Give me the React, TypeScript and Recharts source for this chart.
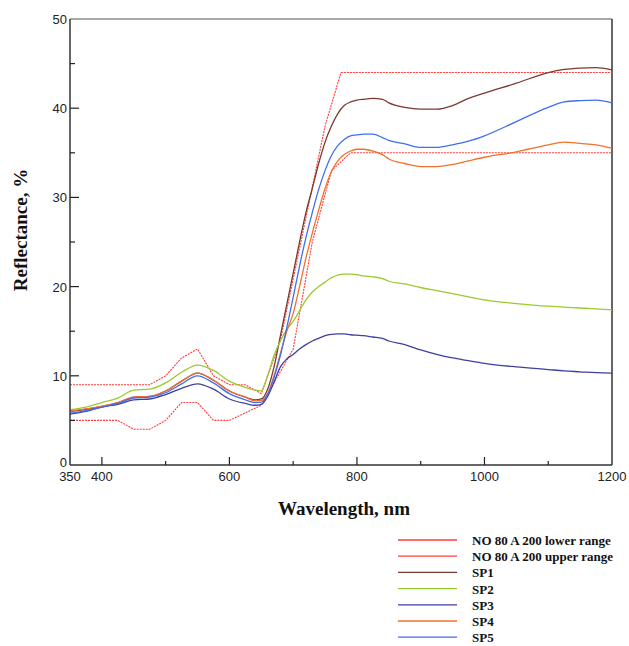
import { LineChart, Line, XAxis, YAxis, ReferenceLine } from 'recharts';

// wavelengths (nm) for the measured spectra
const specNm = [350, 375, 400, 425, 450, 475, 500, 525, 550, 575, 600, 625, 640, 650, 660, 670, 680, 690, 700, 710, 720, 730, 740, 750, 760, 770, 780, 790, 800, 810, 825, 840, 850, 875, 900, 925, 950, 975, 1000, 1050, 1100, 1125, 1150, 1175, 1200];

const sp1 = [6.0, 6.25, 6.55, 7.0, 7.6, 7.7, 8.3, 9.4, 10.3, 9.5, 8.3, 7.6, 7.3, 7.4, 8.5, 11.0, 14.5, 18.0, 21.5, 25.0, 28.3, 31.0, 33.8, 36.2, 38.0, 39.4, 40.3, 40.7, 40.9, 41.0, 41.1, 41.0, 40.6, 40.1, 39.9, 39.9, 40.3, 41.1, 41.7, 42.8, 44.0, 44.35, 44.5, 44.55, 44.3];
const sp2 = [6.2, 6.5, 7.0, 7.5, 8.4, 8.5, 9.2, 10.4, 11.2, 10.6, 9.4, 8.7, 8.4, 8.3, 10.0, 12.3, 13.9, 15.2, 16.1, 17.3, 18.5, 19.4, 20.0, 20.5, 21.0, 21.3, 21.4, 21.4, 21.35, 21.2, 21.1, 20.9, 20.6, 20.3, 19.9, 19.55, 19.2, 18.85, 18.5, 18.1, 17.8, 17.7, 17.6, 17.5, 17.4];
const sp3 = [5.7, 6.0, 6.5, 6.8, 7.3, 7.4, 7.9, 8.6, 9.1, 8.5, 7.4, 6.9, 6.7, 6.8, 7.7, 9.3, 11.0, 11.9, 12.4, 13.0, 13.5, 13.9, 14.2, 14.5, 14.65, 14.7, 14.7, 14.6, 14.55, 14.5, 14.35, 14.2, 13.9, 13.5, 12.9, 12.4, 12.0, 11.7, 11.4, 11.0, 10.7, 10.55, 10.45, 10.35, 10.3];
const sp4 = [6.05, 6.3, 6.6, 7.0, 7.6, 7.7, 8.3, 9.4, 10.3, 9.5, 8.3, 7.6, 7.2, 7.25, 8.0, 10.0, 12.5, 15.0, 17.0, 20.0, 23.2, 26.0, 28.6, 31.0, 32.9, 34.1, 34.8, 35.2, 35.4, 35.4, 35.2, 34.8, 34.3, 33.8, 33.45, 33.45, 33.7, 34.1, 34.5, 35.1, 35.9, 36.2, 36.05, 35.9, 35.5];
const sp5 = [5.8, 6.1, 6.5, 6.9, 7.5, 7.6, 8.1, 9.1, 10.0, 9.2, 8.0, 7.3, 7.0, 7.05, 7.9, 9.8, 12.3, 15.4, 18.8, 22.3, 25.5, 28.3, 30.9, 33.0, 34.7, 35.8, 36.5, 36.9, 37.0, 37.1, 37.1, 36.7, 36.4, 36.0, 35.6, 35.6, 35.9, 36.3, 36.9, 38.5, 40.1, 40.7, 40.85, 40.9, 40.6];

// NO 80 A 200 tolerance band
const lowerNm = [350, 425, 450, 475, 500, 525, 550, 575, 600, 650, 700, 730, 760, 790, 1200];
const lowerRange = [5, 5, 4, 4, 5, 7, 7, 5, 5, 6.7, 13, 25, 33, 35, 35];
const upperNm = [350, 475, 500, 525, 550, 575, 600, 625, 650, 680, 750, 775, 1200];
const upperRange = [9, 9, 10, 12, 13, 10, 9, 9, 8, 14, 38, 44, 44];

const xTicks = [350, 400, 500, 600, 700, 800, 900, 1000, 1100, 1200];
const xLabels = [350, 400, 600, 800, 1000, 1200];
const yTicks = [0, 5, 10, 15, 20, 25, 30, 35, 40, 45, 50];

const series = [
    { key: 'lower', name: 'NO 80 A 200 lower range', color: '#ff3b3b', dashed: true },
    { key: 'upper', name: 'NO 80 A 200 upper range', color: '#ff3b3b', dashed: true },
    { key: 'sp1', name: 'SP1', color: '#7b3a2c' },
    { key: 'sp2', name: 'SP2', color: '#9acb2f' },
    { key: 'sp3', name: 'SP3', color: '#3f3f9c' },
    { key: 'sp4', name: 'SP4', color: '#f2702c' },
    { key: 'sp5', name: 'SP5', color: '#3f6ff0' },
];

// merge everything into one table keyed by wavelength
function buildRows() {
    const map = new Map<number, any>();
    const put = (nm: number, key: string, v: number) => {
        if (!map.has(nm)) map.set(nm, { nm });
        map.get(nm)[key] = v;
    };
    specNm.forEach((nm, i) => {
        put(nm, 'sp1', sp1[i]);
        put(nm, 'sp2', sp2[i]);
        put(nm, 'sp3', sp3[i]);
        put(nm, 'sp4', sp4[i]);
        put(nm, 'sp5', sp5[i]);
    });
    lowerNm.forEach((nm, i) => put(nm, 'lower', lowerRange[i]));
    upperNm.forEach((nm, i) => put(nm, 'upper', upperRange[i]));
    return Array.from(map.values()).sort((a, b) => a.nm - b.nm);
}

const data = buildRows();

const XTick = (props: any) => {
    const { x, y, payload } = props;
    const v = payload.value;
    const major = v % 200 === 0;
    const edge = v === 350 || v === 1200;
    return (
        <g>
            {!edge && <line x1={x} x2={x} y1={y} y2={y - (major ? 8 : 4)} stroke="#222" strokeWidth={1.2} />}
            {xLabels.includes(v) && (
                <text x={x} y={y + 16} textAnchor="middle" fontSize={13} fill="#222" fontFamily="'Liberation Sans', Arial, sans-serif">{v}</text>
            )}
        </g>
    );
};

const YTick = (props: any) => {
    const { x, y, payload } = props;
    const v = payload.value;
    const major = v % 10 === 0;
    return (
        <g>
            {v !== 0 && v !== 50 && <line x1={x} x2={x + (major ? 9 : 5)} y1={y} y2={y} stroke="#222" strokeWidth={1.2} />}
            {major && (
                <text x={x - 3} y={v === 0 ? y + 2 : y + 5} textAnchor="end" fontSize={13} fill="#222" fontFamily="'Liberation Sans', Arial, sans-serif">{v}</text>
            )}
        </g>
    );
};

const serif = "'Liberation Serif', 'Times New Roman', serif";

export default function App() {
    const legendTop = 540;
    const legendStep = 16.2;
    return (
        <div style={{ position: 'absolute', left: 0, top: 0, width: 629, height: 646, background: '#fff', overflow: 'hidden' }}>
            <LineChart width={629} height={646} data={data} margin={{ top: 19, right: 17, bottom: 151, left: 0 }}>
                <XAxis
                    dataKey="nm"
                    type="number"
                    domain={[350, 1200]}
                    ticks={xTicks}
                    interval={0}
                    height={30}
                    tickSize={0}
                    tickMargin={0}
                    tickLine={false}
                    tick={XTick}
                    stroke="#333"
                    strokeWidth={1.5}
                    allowDataOverflow
                />
                <YAxis
                    type="number"
                    domain={[0, 50]}
                    ticks={yTicks}
                    interval={0}
                    width={70}
                    tickSize={0}
                    tickMargin={0}
                    tickLine={false}
                    tick={YTick}
                    stroke="#333"
                    strokeWidth={1.5}
                    allowDataOverflow
                />
                <ReferenceLine y={50} stroke="#555" strokeWidth={1.2} />
                <ReferenceLine x={1200} stroke="#333" strokeWidth={1.5} />
                {series.map((s) => (
                    <Line
                        key={s.key}
                        dataKey={s.key}
                        type={s.dashed ? 'linear' : 'monotone'}
                        stroke={s.color}
                        strokeWidth={s.dashed ? 1.1 : 1.3}
                        strokeDasharray={s.dashed ? '2 1' : undefined}
                        dot={false}
                        connectNulls
                        isAnimationActive={false}
                    />
                ))}
            </LineChart>
            <svg width={629} height={646} style={{ position: 'absolute', left: 0, top: 0, pointerEvents: 'none' }}>
                <text x={344} y={515} textAnchor="middle" fontSize={19} fontWeight="bold" fontFamily={serif} fill="#111">Wavelength, nm</text>
                <text transform="translate(27,230) rotate(-90)" textAnchor="middle" fontSize={19} fontWeight="bold" fontFamily={serif} fill="#111">Reflectance, %</text>
                {series.map((s, i) => (
                    <g key={s.key}>
                        <line x1={398} x2={457} y1={legendTop + i * legendStep} y2={legendTop + i * legendStep} stroke={s.color} strokeWidth={1.3} />
                        <text x={472} y={legendTop + i * legendStep + 5} fontSize={13} fontWeight="bold" fontFamily={serif} fill="#111">{s.name}</text>
                    </g>
                ))}
            </svg>
        </div>
    );
}
